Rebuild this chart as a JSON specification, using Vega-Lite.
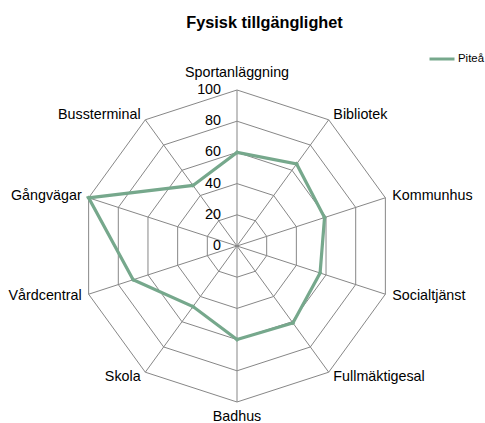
{
  "$schema": "https://vega.github.io/schema/vega-lite/v6.json",
  "width": 485,
  "height": 383,
  "autosize": "none",
  "padding": {"left": 0, "top": 40, "right": 0, "bottom": 0},
  "background": "white",
  "config": {"view": {"stroke": null}, "font": "Liberation Sans"},
  "title": {
    "text": "Fysisk tillgänglighet",
    "fontSize": 16.3,
    "fontWeight": "bold",
    "font": "Liberation Sans",
    "color": "#000000",
    "anchor": "middle",
    "frame": "group",
    "dx": 22,
    "baseline": "alphabetic",
    "offset": -4.5
  },
  "datasets": {
    "omraden": [
      {"omrade": "Sportanläggning", "idx": 0, "serie": "Piteå", "varde": 60, "nivaer": [20, 40, 60, 80, 100]},
      {"omrade": "Bibliotek", "idx": 1, "serie": "Piteå", "varde": 65, "nivaer": [20, 40, 60, 80, 100]},
      {"omrade": "Kommunhus", "idx": 2, "serie": "Piteå", "varde": 59, "nivaer": [20, 40, 60, 80, 100]},
      {"omrade": "Socialtjänst", "idx": 3, "serie": "Piteå", "varde": 56, "nivaer": [20, 40, 60, 80, 100]},
      {"omrade": "Fullmäktigesal", "idx": 4, "serie": "Piteå", "varde": 61, "nivaer": [20, 40, 60, 80, 100]},
      {"omrade": "Badhus", "idx": 5, "serie": "Piteå", "varde": 60, "nivaer": [20, 40, 60, 80, 100]},
      {"omrade": "Skola", "idx": 6, "serie": "Piteå", "varde": 48, "nivaer": [20, 40, 60, 80, 100]},
      {"omrade": "Vårdcentral", "idx": 7, "serie": "Piteå", "varde": 70, "nivaer": [20, 40, 60, 80, 100]},
      {"omrade": "Gångvägar", "idx": 8, "serie": "Piteå", "varde": 100, "nivaer": [20, 40, 60, 80, 100]},
      {"omrade": "Bussterminal", "idx": 9, "serie": "Piteå", "varde": 48, "nivaer": [20, 40, 60, 80, 100]}
    ],
    "skala": [
      {"niva": 0, "noll": 0}, {"niva": 20, "noll": 0}, {"niva": 40, "noll": 0}, {"niva": 60, "noll": 0}, {"niva": 80, "noll": 0}, {"niva": 100, "noll": 0}
    ]
  },
  "layer": [
    {
      "data": {"name": "omraden"},
      "transform": [
        {"flatten": ["nivaer"], "as": ["niva"]},
        {"calculate": "datum.idx * PI / 5", "as": "vinkel"},
        {"calculate": "datum.niva * sin(datum.vinkel)", "as": "gx"},
        {"calculate": "datum.niva * cos(datum.vinkel)", "as": "gy"}
      ],
      "mark": {"type": "line", "interpolate": "linear-closed", "stroke": "#878787", "strokeWidth": 1},
      "encoding": {
        "x": {"field": "gx", "type": "quantitative", "scale": {"domain": [-151.92, 158.97], "nice": false, "zero": false}, "axis": null},
        "y": {"field": "gy", "type": "quantitative", "scale": {"domain": [-113.46, 132.05], "nice": false, "zero": false}, "axis": null},
        "detail": {"field": "niva", "type": "nominal"},
        "order": {"field": "idx", "type": "quantitative"}
      }
    },
    {
      "data": {"name": "omraden"},
      "transform": [
        {"calculate": "datum.idx * PI / 5", "as": "vinkel"},
        {"calculate": "100 * sin(datum.vinkel)", "as": "sx"},
        {"calculate": "100 * cos(datum.vinkel)", "as": "sy"},
        {"calculate": "0", "as": "noll"}
      ],
      "mark": {"type": "rule", "stroke": "#878787", "strokeWidth": 1},
      "encoding": {
        "x": {"field": "sx", "type": "quantitative"},
        "y": {"field": "sy", "type": "quantitative"},
        "x2": {"field": "noll"},
        "y2": {"field": "noll"}
      }
    },
    {
      "data": {"name": "skala"},
      "mark": {"type": "text", "align": "right", "baseline": "middle", "dx": -16, "fontSize": 14.3, "font": "Liberation Sans", "color": "#000000"},
      "encoding": {
        "x": {"field": "noll", "type": "quantitative"},
        "y": {"field": "niva", "type": "quantitative"},
        "text": {"field": "niva", "type": "quantitative"}
      }
    },
    {
      "data": {"name": "omraden"},
      "transform": [
        {"calculate": "datum.idx * PI / 5", "as": "vinkel"},
        {"calculate": "datum.varde * sin(datum.vinkel)", "as": "px"},
        {"calculate": "datum.varde * cos(datum.vinkel)", "as": "py"}
      ],
      "mark": {"type": "line", "interpolate": "linear-closed", "strokeWidth": 3.2, "strokeJoin": "miter", "point": {"shape": "diamond", "size": 22, "filled": true}},
      "encoding": {
        "x": {"field": "px", "type": "quantitative"},
        "y": {"field": "py", "type": "quantitative"},
        "order": {"field": "idx", "type": "quantitative"},
        "color": {
          "field": "serie",
          "type": "nominal",
          "scale": {"range": ["#76A88C"]},
          "legend": {
            "title": null,
            "orient": "none",
            "legendX": 428,
            "legendY": 5,
            "symbolType": "stroke",
            "symbolSize": 625,
            "symbolStrokeWidth": 3,
            "labelFontSize": 11.4,
            "labelFont": "Liberation Sans",
            "labelColor": "#000000",
            "labelOffset": 2
          }
        }
      }
    },
    {
      "data": {"name": "omraden"},
      "transform": [
        {"filter": "datum.idx >= 1 && datum.idx <= 4"},
        {"calculate": "datum.idx * PI / 5", "as": "vinkel"},
        {"calculate": "104 * sin(datum.vinkel)", "as": "lx"},
        {"calculate": "104 * cos(datum.vinkel)", "as": "ly"}
      ],
      "mark": {"type": "text", "align": "left", "baseline": "middle", "dx": 1, "fontSize": 14.3, "font": "Liberation Sans", "color": "#000000"},
      "encoding": {
        "x": {"field": "lx", "type": "quantitative"},
        "y": {"field": "ly", "type": "quantitative"},
        "text": {"field": "omrade"}
      }
    },
    {
      "data": {"name": "omraden"},
      "transform": [
        {"filter": "datum.idx >= 6"},
        {"calculate": "datum.idx * PI / 5", "as": "vinkel"},
        {"calculate": "104 * sin(datum.vinkel)", "as": "lx"},
        {"calculate": "104 * cos(datum.vinkel)", "as": "ly"}
      ],
      "mark": {"type": "text", "align": "right", "baseline": "middle", "dx": -1, "fontSize": 14.3, "font": "Liberation Sans", "color": "#000000"},
      "encoding": {
        "x": {"field": "lx", "type": "quantitative"},
        "y": {"field": "ly", "type": "quantitative"},
        "text": {"field": "omrade"}
      }
    },
    {
      "data": {"name": "omraden"},
      "transform": [
        {"filter": "datum.idx == 0 || datum.idx == 5"},
        {"calculate": "datum.idx * PI / 5", "as": "vinkel"},
        {"calculate": "(datum.idx == 0 ? 111 : 109.3) * sin(datum.vinkel)", "as": "lx"},
        {"calculate": "(datum.idx == 0 ? 111 : 109.3) * cos(datum.vinkel)", "as": "ly"}
      ],
      "mark": {"type": "text", "align": "center", "baseline": "middle", "fontSize": 14.3, "font": "Liberation Sans", "color": "#000000"},
      "encoding": {
        "x": {"field": "lx", "type": "quantitative"},
        "y": {"field": "ly", "type": "quantitative"},
        "text": {"field": "omrade"}
      }
    }
  ]
}
